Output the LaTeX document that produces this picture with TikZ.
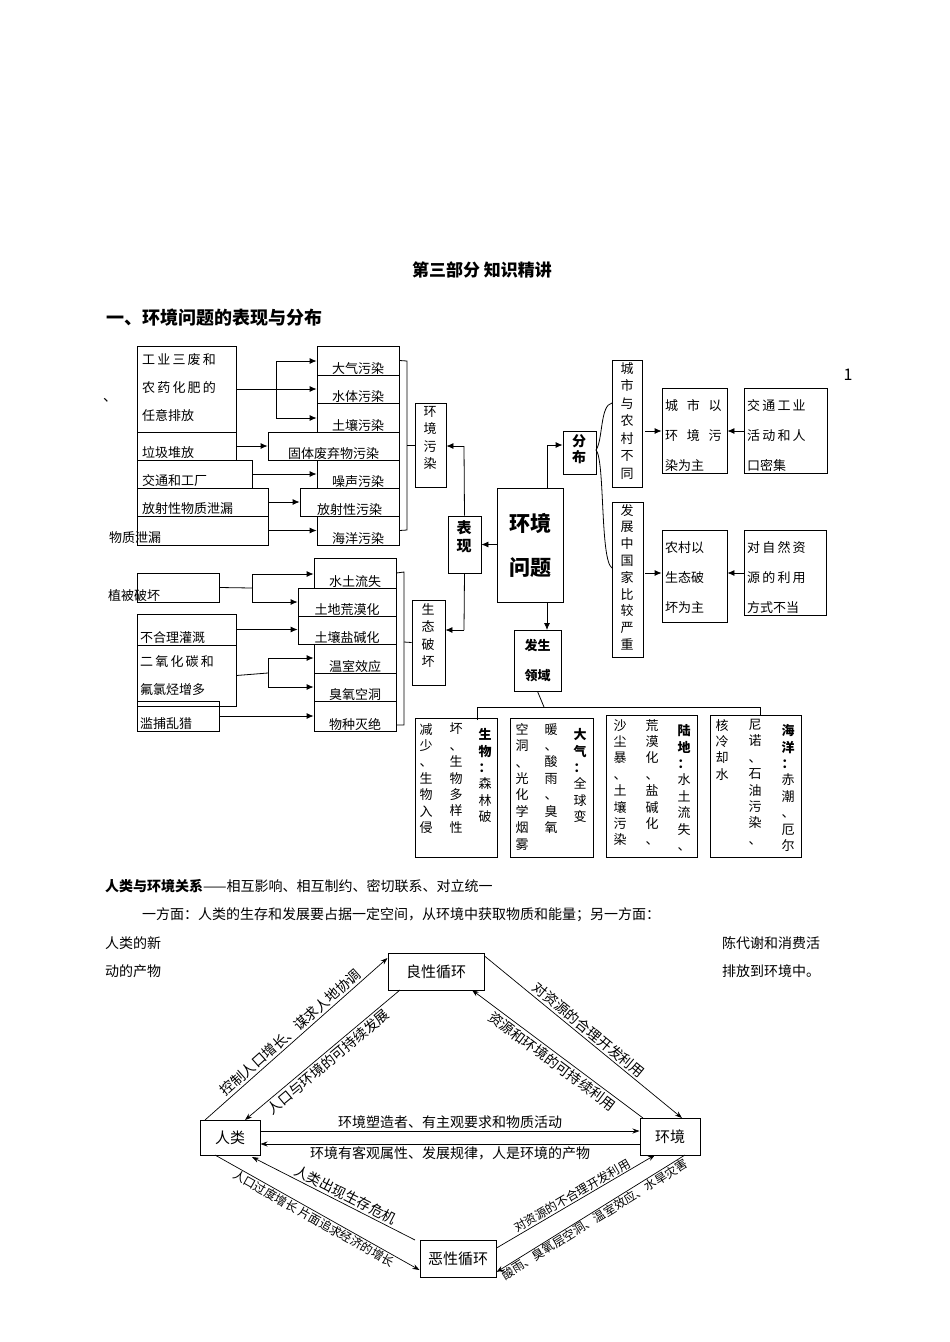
\documentclass[tikz,border=0pt]{standalone}
\usepackage{fontspec}
\setmainfont{Noto Sans CJK SC}
\usetikzlibrary{arrows.meta,fit,calc}
\def\vsp#1{\vspA#1\vspend}
\def\vspend{\vspend}
\def\vspA#1{\ifx#1\vspend\else#1\par\expandafter\vspA\fi}
\begin{document}
\begin{tikzpicture}[x=1pt,y=-1pt,
  bx/.style={draw, line width=0.8pt, inner sep=0pt},
  arr/.style={line width=0.8pt,-{Latex[length=7pt,width=6pt]}},
  ln/.style={line width=0.8pt},
  t14/.style={font=\fontsize{13}{15}\selectfont, inner sep=1pt},
  vt/.style={text width=15pt, align=center, inner sep=0pt, anchor=north, font=\fontsize{13}{17.5}\selectfont},
  vb/.style={text width=15pt, align=center, inner sep=0pt, anchor=north, font=\fontsize{13}{16.4}\selectfont},
  cyc/.style={draw, line width=1pt, inner sep=0pt, font=\fontsize{15}{17}\selectfont},
  ca/.style={line width=0.7pt,-{Stealth[length=7pt,width=5pt]}},
  lab/.style={sloped, font=\fontsize{14}{16}\selectfont, inner sep=2pt},
  labs/.style={sloped, font=\fontsize{12}{14}\selectfont, inner sep=1pt}]
\useasboundingbox (0,0) rectangle (950,1342);
% titles
\node[font=\bfseries\fontsize{17}{20}\selectfont] (title) at (482,270) {第三部分\ 知识精讲};
\node[font=\bfseries\fontsize{18}{21}\selectfont, anchor=west] (sec) at (103,318) {一、环境问题的表现与分布};
\node[font=\fontsize{16}{18}\selectfont] (one) at (848,375) {1};
\node[font=\fontsize{14}{16}\selectfont] (dun) at (110,400) {、};
% left boxes
\node[bx, fit={(137,346)(236,432)}] (A) {};
\node[t14, anchor=north west, text width=96pt, align=left, font=\fontsize{13}{28}\selectfont] (At) at (141,352) {工\,业\,三\,废\,和\\农\,药\,化\,肥\,的\\任意排放};
\node[bx, fit={(137,432)(236,460)}] (B) {};
\node[t14, anchor=south west] (Bt) at (141,460) {垃圾堆放};
\node[bx, fit={(137,460)(252,488)}] (C) {};
\node[t14, anchor=south west] (Ct) at (141,488) {交通和工厂};
\node[bx, fit={(137,488)(268,516)}] (D) {};
\node[t14, anchor=south west] (Dt) at (141,516) {放射性物质泄漏};
\node[bx, fit={(137,516)(268,545)}] (E) {};
\node[t14, anchor=west] (Et) at (108,538) {物质泄漏};
% pollution types
\node[bx, fit={(317,346)(399,375)}] (p1) {};
\node[t14, anchor=south] at (p1.south) {大气污染};
\node[bx, fit={(317,375)(399,403)}] (p2) {};
\node[t14, anchor=south] at (p2.south) {水体污染};
\node[bx, fit={(317,403)(399,432)}] (p3) {};
\node[t14, anchor=south] at (p3.south) {土壤污染};
\node[bx, fit={(268,432)(399,460)}] (p4) {};
\node[t14, anchor=south] at (p4.south) {固体废弃物污染};
\node[bx, fit={(317,460)(399,488)}] (p5) {};
\node[t14, anchor=south] at (p5.south) {噪声污染};
\node[bx, fit={(300,488)(399,516)}] (p6) {};
\node[t14, anchor=south] at (p6.south) {放射性污染};
\node[bx, fit={(317,516)(399,545)}] (p7) {};
\node[t14, anchor=south] at (p7.south) {海洋污染};
\draw[ln] (A.east|-0,389) -- (276,389) coordinate (ja);
\draw[ln] (276,361) -- (276,418);
\draw[arr] (276,361) -- (p1.west|-0,361);
\draw[arr] (ja) -- (p2.west|-ja);
\draw[arr] (276,418) -- (p3.west|-0,418);
\draw[arr] (B.east) -- (p4.west|-B.east);
\draw[arr] (C.east) -- (p5.west|-C.east);
\draw[arr] (D.east) -- (p6.west|-D.east);
\draw[arr] (E.east) -- (p7.west|-E.east);
\draw[ln] (p1.east) -- (407,361) -- (407,530) -- (p7.east);
\node[bx, fit={(415,403)(446,487)}] (pol) {};
\node[vt] at (430,406) {\vsp{环境污染}};
\draw[ln] (407,445) -- (pol.west);
% ecological
\node[bx, fit={(137,573)(219,602)}] (V) {};
\node[t14, anchor=west] (Vt) at (107,596) {植被破坏};
\node[bx, fit={(137,614)(236,645)}] (I) {};
\node[t14, anchor=south west] at (139,645) {不合理灌溉};
\node[bx, fit={(137,645)(236,706)}] (G) {};
\node[t14, anchor=north west, text width=96pt, align=left, font=\fontsize{13}{28}\selectfont] at (139,654) {二\,氧\,化\,碳\,和\\氟氯烃增多};
\node[bx, fit={(137,701)(219,731)}] (H) {};
\node[t14, anchor=south west] at (139,731) {滥捕乱猎};
\node[bx, fit={(314,558)(396,588)}] (e1) {};
\node[t14, anchor=south] at (e1.south) {水土流失};
\node[bx, fit={(298,588)(396,616)}] (e2) {};
\node[t14, anchor=south] at (e2.south) {土地荒漠化};
\node[bx, fit={(298,616)(396,644)}] (e3) {};
\node[t14, anchor=south] at (e3.south) {土壤盐碱化};
\node[bx, fit={(314,644)(396,673)}] (e4) {};
\node[t14, anchor=south] at (e4.south) {温室效应};
\node[bx, fit={(314,673)(396,701)}] (e5) {};
\node[t14, anchor=south] at (e5.south) {臭氧空洞};
\node[bx, fit={(314,701)(396,731)}] (e6) {};
\node[t14, anchor=south] at (e6.south) {物种灭绝};
\draw[ln] (V.east) -- (252,588);
\draw[ln] (252,574) -- (252,602);
\draw[arr] (252,574) -- (e1.west|-0,574);
\draw[arr] (252,602) -- (e2.west|-0,602);
\draw[arr] (I.east) -- (e3.west|-I.east);
\draw[ln] (G.east) -- (268,673);
\draw[ln] (268,658) -- (268,687);
\draw[arr] (268,658) -- (e4.west|-0,658);
\draw[arr] (268,687) -- (e5.west|-0,687);
\draw[arr] (H.east) -- (e6.west|-H.east);
\draw[ln] (e1.east) -- (404,572) -- (404,725) -- (396,725);
\node[bx, fit={(412,600)(445,685)}] (eco) {};
\node[vt] at (428,603) {\vsp{生态破坏}};
\draw[ln] (404,642) -- (eco.west);
% center
\node[bx, fit={(448,516)(481,573)}] (bx1) {};
\node[vt, font=\bfseries\fontsize{15}{18}\selectfont, text width=17pt] at (464,520) {\vsp{表现}};
\node[bx, fit={(497,488)(563,602)}] (core) {};
\node[font=\bfseries\fontsize{21}{44}\selectfont, align=center] at (core.center) {环境\\问题};
\draw[arr] (core.west|-bx1.east) -- (bx1.east);
\draw[ln] (bx1.north) -- (464,446);
\draw[arr] (464,446) -- (pol.east|-0,446);
\draw[ln] (bx1.south) -- (464,630);
\draw[arr] (464,630) -- (eco.east|-0,630);
\node[bx, fit={(563,431)(596,474)}] (fb) {};
\node[vt, font=\bfseries\fontsize{14}{16}\selectfont] at (579,434) {\vsp{分布}};
\draw[ln] (547,488) -- (547,445);
\draw[arr] (547,445) -- (fb.west|-0,445);
\node[bx, fit={(514,630)(561,691)}] (fs) {};
\node[font=\bfseries\fontsize{13}{30}\selectfont, align=center] at (fs.center) {发生\\领域};
\draw[arr] (547,602) -- (547,630);
% brace
\draw[ln] (596,450) .. controls (603,440) and (600,405) .. (612,403);
\draw[ln] (596,450) .. controls (605,460) and (600,560) .. (612,568);
\node[bx, fit={(612,360)(642,487)}] (cx) {};
\node[vt] at (627,362) {\vsp{城市与农村不同}};
\node[bx, fit={(612,502)(643,657)}] (dv) {};
\node[vt, font=\fontsize{13}{16.8}\selectfont] at (627,504) {\vsp{发展中国家比较严重}};
\node[bx, fit={(662,388)(727,473)}] (cs) {};
\node[t14, anchor=north west, text width=62pt, align=left, font=\fontsize{13}{30}\selectfont] at (664,398) {城\ \ 市\ \ 以\\环\ \ 境\ \ 污\\染为主};
\node[bx, fit={(744,388)(827,473)}] (cs2) {};
\node[t14, anchor=north west, text width=82pt, align=left, font=\fontsize{13}{30}\selectfont] at (746,398) {交\,通\,工\,业\\活\,动\,和\,人\\口密集};
\draw[arr] (645,431) -- (cs.west|-0,431);
\draw[arr] (cs2.west|-0,431) -- (cs.east|-0,431);
\node[bx, fit={(662,530)(727,622)}] (nc) {};
\node[t14, anchor=north west, text width=62pt, align=left, font=\fontsize{13}{30}\selectfont] at (664,540) {农村以\\生态破\\坏为主};
\node[bx, fit={(744,530)(826,615)}] (nc2) {};
\node[t14, anchor=north west, text width=82pt, align=left, font=\fontsize{13}{30}\selectfont] at (746,540) {对\,自\,然\,资\\源\,的\,利\,用\\方式不当};
\draw[arr] (645,573) -- (nc.west|-0,573);
\draw[arr] (nc2.west|-0,573) -- (nc.east|-0,573);
% tree
\draw[ln] (fs.south) -- (544,707);
\draw[ln] (477,720) -- (477,707) -- (760,707) -- (760,715);
\node[bx, fit={(415,718)(497,857)}] (bio) {};
\node[vb] at (485,723) {\vsp{\bfseries 生物：\mdseries 森林破}};
\node[vb] at (456,723) {\vsp{坏、生物多样性}};
\node[vb] at (426,723) {\vsp{减少、生物入侵}};
\node[bx, fit={(510,718)(593,857)}] (atm) {};
\node[vb] at (580,723) {\vsp{\bfseries 大气：\mdseries 全球变}};
\node[vb] at (551,723) {\vsp{暖、酸雨、臭氧}};
\node[vb] at (522,723) {\vsp{空洞、光化学烟雾}};
\node[bx, fit={(606,715)(697,857)}] (land) {};
\node[vb] at (684,719) {\vsp{\bfseries 陆地：\mdseries 水土流失、}};
\node[vb] at (652,719) {\vsp{荒漠化、盐碱化、}};
\node[vb] at (620,719) {\vsp{沙尘暴、土壤污染}};
\node[bx, fit={(710,715)(801,857)}] (sea) {};
\node[vb] at (788,719) {\vsp{\bfseries 海洋：\mdseries 赤潮、厄尔}};
\node[vb] at (755,719) {\vsp{尼诺、石油污染、}};
\node[vb] at (722,719) {\vsp{核冷却水}};
% paragraph
\node[anchor=west, font=\fontsize{14}{16}\selectfont, inner sep=0pt] (pa) at (105,886) {\textbf{人类与环境关系}——相互影响、相互制约、密切联系、对立统一};
\node[anchor=west, font=\fontsize{14}{16}\selectfont, inner sep=0pt] (pb) at (142,915) {一方面：人类的生存和发展要占据一定空间，从环境中获取物质和能量；另一方面：};
\node[anchor=west, font=\fontsize{14}{16}\selectfont, inner sep=0pt] (pc) at (105,943) {人类的新};
\node[anchor=west, font=\fontsize{14}{16}\selectfont, inner sep=0pt] (pd) at (722,943) {陈代谢和消费活};
\node[anchor=west, font=\fontsize{14}{16}\selectfont, inner sep=0pt] (pe) at (105,971) {动的产物};
\node[anchor=west, font=\fontsize{14}{16}\selectfont, inner sep=0pt] (pf) at (722,971) {排放到环境中。};
% cycle
\node[cyc, fit={(388,953)(484,990)}] (good) {};
\node[font=\fontsize{15}{17}\selectfont] at (good.center) {良性循环};
\node[cyc, fit={(200,1120)(260,1155)}] (hum) {};
\node[font=\fontsize{15}{17}\selectfont] at (hum.center) {人类};
\node[cyc, fit={(640,1118)(700,1155)}] (env) {};
\node[font=\fontsize{15}{17}\selectfont] at (env.center) {环境};
\node[cyc, fit={(420,1240)(496,1277)}] (bad) {};
\node[font=\fontsize{15}{17}\selectfont] at (bad.center) {恶性循环};
\draw[ca] (205,1120) -- (good.west|-0,958) node[lab, midway, above] {控制人口增长、谋求人地协调};
\draw[ca] (400,990) -- (245,1120) node[lab, pos=0.5, below] {人口与环境的可持续发展};
\draw[ca] (good.east|-0,956) -- (682,1118) node[lab, midway, above] {对资源的合理开发利用};
\draw[ca] (643,1118) -- (472,990) node[lab, midway, below] {资源和环境的可持续利用};
\draw[ca] (hum.east|-0,1131) -- (env.west|-0,1131) node[lab, midway, above] {环境塑造者、有主观要求和物质活动};
\draw[ca] (env.west|-0,1144) -- (hum.east|-0,1144) node[lab, midway, below] {环境有客观属性、发展规律，人是环境的产物};
\draw[ca] (215,1155) -- (bad.west|-0,1270) node[labs, midway, below] {人口过度增长\ 片面追求经济的增长};
\draw[ca] (415,1240) -- (252,1157) node[lab, pos=0.45, above] {人类出现生存危机};
\draw[ca] (bad.east|-0,1248) -- (655,1155) node[labs, midway, above] {对资源的不合理开发利用};
\draw[ca] (685,1155) -- (bad.east|-0,1272) node[labs, midway, below] {酸雨、臭氧层空洞、温室效应、水旱灾害};
\end{tikzpicture}
\end{document}
